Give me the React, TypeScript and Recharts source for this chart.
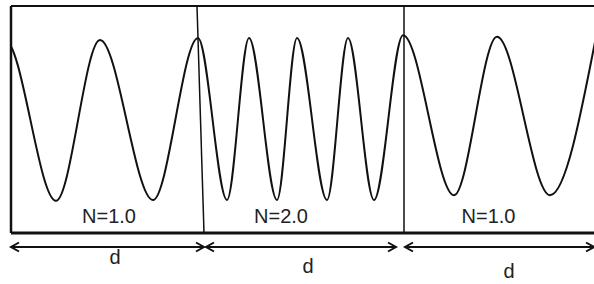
import React from 'react';
import { ComposedChart, Line, XAxis, YAxis, ReferenceLine, Scatter } from 'recharts';

// Wave extrema (x: position along the slab, y: field amplitude);
// the first two lie just left of the frame and are clipped away
const waveX = [-43, 5, 56, 100, 153, 198, 227, 249, 277, 297, 327, 348, 374, 403, 454, 497, 550, 596];
const waveY = [-1.0, 1.0, -1.01, 1.0, -1.0, 1.025, -1.0, 1.025, -1.0, 1.025, -1.0, 1.025, -1.0, 1.06, -0.94, 1.04, -0.94, 1.04];

// Region boundaries (x) and frame levels (y)
const boundaryX = [11, 204, 404, 594];
const tiltedBoundaryTopX = 197;
const frameTopY = 1.425;
const frameBottomY = -1.4125;

// Medium labels
const mediumLabels = ['N=1.0', 'N=2.0', 'N=1.0'];
const mediumLabelX = [109, 281, 488.5];
const mediumLabelY = [-1.2875, -1.2875, -1.2875];

// Width arrows and their labels
const arrowStartX = [11, 206, 405];
const arrowEndX = [204, 396, 594];
const arrowY = -1.5875;
const widthLabels = ['d', 'd', 'd'];
const widthLabelX = [115, 308, 509];
const widthLabelY = [-1.8, -1.9125, -1.975];

const waveData = waveX.map((x, i) => ({ x, y: waveY[i] }));
const mediumData = mediumLabels.map((t, i) => ({ x: mediumLabelX[i], y: mediumLabelY[i], t }));
const widthData = widthLabels.map((t, i) => ({ x: widthLabelX[i], y: widthLabelY[i], t }));

const FONT = '"Liberation Sans", Arial, sans-serif';
const INK = '#111';

const DoubleArrow = (props: any) => {
  const { x1, y1, x2, y2 } = props;
  const L = 8;
  const H = 4.5;
  return (
    <g>
      <line x1={x1} y1={y1} x2={x2} y2={y2} stroke={INK} strokeWidth={1.8} />
      <polyline points={`${x1 + L},${y1 - H} ${x1},${y1} ${x1 + L},${y1 + H}`} fill="none" stroke={INK} strokeWidth={2} />
      <polyline points={`${x2 - L},${y2 - H} ${x2},${y2} ${x2 - L},${y2 + H}`} fill="none" stroke={INK} strokeWidth={2} />
    </g>
  );
};

const TextShape = (props: any) => {
  const { cx, cy, payload } = props;
  return (
    <text x={cx} y={cy} textAnchor="middle" fontFamily={FONT} fontSize={20} fill="#222">
      {payload.t}
    </text>
  );
};

export default function App() {
  return (
    <div style={{ position: 'absolute', left: 0, top: 0, width: 594, height: 284, background: '#fff' }}>
      <ComposedChart width={594} height={284} margin={{ top: 0, right: 0, bottom: 0, left: 11 }}>
        <XAxis dataKey="x" type="number" domain={[11, 594]} allowDataOverflow hide />
        <YAxis dataKey="y" type="number" domain={[-2.05, 1.5]} allowDataOverflow hide />
        <Line
          data={waveData}
          dataKey="y"
          type="monotone"
          stroke={INK}
          strokeWidth={2}
          dot={false}
          activeDot={false}
          isAnimationActive={false}
        />
        {/* frame */}
        <ReferenceLine segment={[{ x: boundaryX[0], y: frameTopY }, { x: boundaryX[3], y: frameTopY }]} stroke={INK} strokeWidth={2.2} />
        <ReferenceLine segment={[{ x: boundaryX[0], y: frameBottomY }, { x: boundaryX[3], y: frameBottomY }]} stroke={INK} strokeWidth={3} />
        <ReferenceLine segment={[{ x: boundaryX[0], y: frameTopY }, { x: boundaryX[0], y: frameBottomY }]} stroke={INK} strokeWidth={2.5} />
        <ReferenceLine segment={[{ x: tiltedBoundaryTopX, y: frameTopY }, { x: boundaryX[1], y: frameBottomY }]} stroke={INK} strokeWidth={1.5} />
        <ReferenceLine segment={[{ x: boundaryX[2], y: frameTopY }, { x: boundaryX[2], y: frameBottomY }]} stroke={INK} strokeWidth={1.5} />
        {/* width arrows */}
        {arrowStartX.map((sx, i) => (
          <ReferenceLine
            key={'a' + i}
            segment={[{ x: sx, y: arrowY }, { x: arrowEndX[i], y: arrowY }]}
            shape={DoubleArrow}
          />
        ))}
        <Scatter data={mediumData} dataKey="y" shape={TextShape} isAnimationActive={false} />
        <Scatter data={widthData} dataKey="y" shape={TextShape} isAnimationActive={false} />
      </ComposedChart>
    </div>
  );
}
